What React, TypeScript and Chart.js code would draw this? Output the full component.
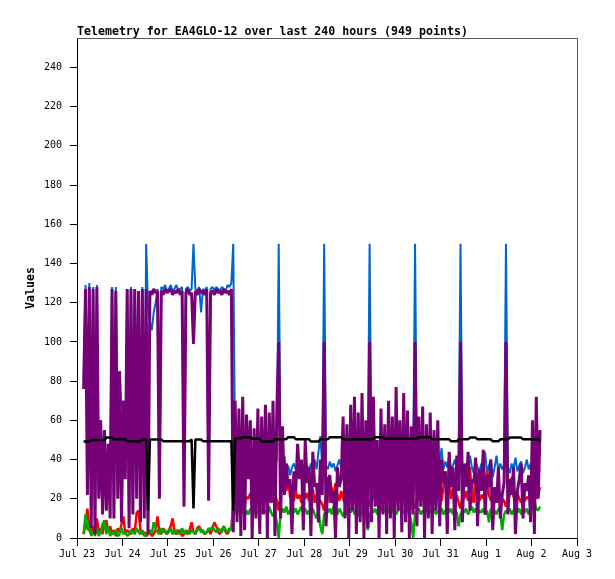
import React, { useEffect, useRef } from "react";
import { Chart, registerables } from "chart.js";

Chart.register(...registerables);

const TITLE = "Telemetry for EA4GLO-12 over last 240 hours (949 points)";
const Y_TITLE = "Values";
const DAY_LABELS = ["Jul 23", "Jul 24", "Jul 25", "Jul 26", "Jul 27", "Jul 28", "Jul 29", "Jul 30", "Jul 31", "Aug 1", "Aug 2", "Aug 3"];
const HOURS_SPAN = 264; // Jul 23 00:00 .. Aug 3 00:00
const START_HOUR = 3.5; // first sample, hours after Jul 23 00:00
const STEP_HOURS = 1; // one sample per hour

const PURPLE = [
  76, 127, 22, 128, 5, 127, 2, 128, 20, 60,
  12, 55, 14, 48, 10, 127, 10, 126, 20, 85,
  8, 70, 30, 127, 5, 127, 12, 127, 20, 126,
  8, 127, 10, 127, 2, 126, 124, 127, 125, 126,
  20, 126, 124, 127, 125, 126, 127, 124, 126, 125,
  127, 124, 126, 16, 125, 127, 124, 125, 99, 126,
  124, 127, 125, 126, 124, 127, 19, 125, 126, 124,
  127, 125, 126, 124, 127, 125, 126, 124, 127, 3,
  70, 8, 66, 1, 72, 4, 63, 30, 60, 0,
  56, 10, 66, 2, 62, 12, 68, 0, 64, 18,
  70, 1, 65, 100, 10, 57, 22, 38, 26, 30,
  2, 34, 24, 48, 30, 40, 4, 50, 28, 36,
  1, 44, 26, 28, 8, 40, 22, 100, 6, 30,
  32, 18, 24, 0, 36, 26, 30, 62, 10, 58,
  0, 68, 14, 72, 2, 64, 8, 74, 0, 60,
  5, 100, 8, 72, 16, 50, 0, 66, 12, 58,
  2, 70, 10, 62, 0, 77, 14, 60, 3, 74,
  8, 65, 0, 57, 12, 100, 6, 62, 16, 67,
  0, 58, 10, 64, 2, 55, 14, 60, 6, 40,
  28, 34, 2, 44, 26, 36, 4, 42, 24, 100,
  8, 38, 26, 44, 14, 30, 28, 41, 6, 35,
  24, 45, 12, 32, 26, 40, 4, 26, 18, 36,
  10, 22, 28, 100, 12, 30, 22, 36, 2, 24,
  30, 38, 10, 28, 24, 32, 8, 60, 2, 72,
  20, 55,
];

const BLUE = [
  80, 129, 37, 130, 6, 128, 3, 129, 22, 60,
  34, 55, 14, 48, 34, 128, 12, 128, 46, 85,
  66, 70, 44, 126, 6, 128, 13, 127, 80, 126,
  9, 128, 11, 150, 118, 110, 106, 115, 120, 127,
  21, 128, 127, 129, 126, 127, 129, 126, 127, 129,
  126, 127, 128, 17, 127, 128, 126, 127, 150, 127,
  126, 128, 115, 127, 126, 128, 20, 127, 128, 126,
  128, 127, 126, 128, 127, 126, 129, 128, 130, 150,
  36, 38, 34, 37, 35, 39, 36, 48, 30, 36,
  38, 35, 37, 34, 36, 39, 35, 37, 36, 38,
  34, 37, 40, 150, 38, 35, 42, 34, 37, 32,
  36, 38, 35, 37, 34, 38, 36, 35, 37, 34,
  38, 36, 40, 35, 44, 52, 36, 150, 37, 35,
  39, 36, 38, 34, 37, 40, 36, 38, 35, 37,
  34, 38, 36, 39, 35, 37, 34, 38, 36, 40,
  37, 150, 35, 38, 34, 37, 36, 39, 35, 38,
  36, 34, 38, 37, 35, 39, 36, 34, 38, 40,
  35, 37, 36, 38, 34, 150, 33, 37, 35, 38,
  36, 34, 39, 35, 37, 40, 36, 44, 38, 46,
  35, 39, 36, 42, 34, 37, 40, 35, 38, 150,
  36, 31, 38, 35, 42, 36, 33, 39, 36, 34,
  38, 35, 44, 33, 37, 40, 31, 36, 42, 34,
  38, 35, 37, 150, 36, 33, 38, 35, 41, 34,
  37, 39, 33, 36, 40, 35, 38, 34, 37, 44,
  36, 34,
];

const RED = [
  2, 8, 15, 4, 2, 6, 1, 10, 3, 5,
  2, 8, 9, 3, 6, 2, 4, 1, 5, 3,
  7, 11, 2, 4, 3, 2, 5, 3, 13, 14,
  4, 2, 3, 1, 2, 3, 1, 2, 4, 11,
  3, 2, 5, 3, 2, 4, 6, 10, 3, 2,
  4, 3, 1, 2, 3, 2, 4, 8, 3, 2,
  5, 6, 4, 3, 2, 3, 4, 2, 5, 8,
  6, 3, 2, 4, 6, 3, 2, 4, 5, 16,
  20, 18, 22, 19, 24, 17, 21, 20, 23, 18,
  22, 19, 25, 20, 17, 22, 19, 21, 24, 18,
  20, 23, 19, 14, 22, 28, 38, 24, 30, 21,
  27, 19, 24, 20, 22, 18, 24, 20, 23, 19,
  21, 25, 18, 22, 20, 19, 17, 14, 22, 30,
  18, 26, 20, 28, 22, 19, 24, 20, 18, 22,
  19, 21, 23, 18, 20, 22, 19, 21, 24, 20,
  18, 16, 22, 20, 24, 19, 21, 23, 18, 20,
  22, 19, 21, 24, 20, 18, 22, 25, 19, 30,
  23, 20, 18, 22, 17, 15, 20, 22, 18, 24,
  20, 19, 22, 20, 18, 21, 23, 20, 24, 19,
  26, 34, 22, 30, 20, 25, 19, 22, 18, 15,
  21, 20, 24, 19, 36, 20, 18, 38, 21, 19,
  22, 20, 26, 34, 22, 19, 21, 20, 23, 18,
  21, 20, 19, 16, 20, 22, 31, 21, 19, 23,
  20, 18, 22, 19, 21, 20, 24, 18, 26, 20,
  22, 26,
];

const GREEN = [
  2, 12, 4, 8, 1, 3, 2, 5, 1, 3,
  7, 9, 2, 6, 1, 3, 2, 4, 1, 2,
  5, 2, 3, 1, 2, 4, 3, 2, 5, 3,
  2, 4, 1, 2, 3, 4, 2, 8, 5, 3,
  2, 5, 3, 4, 2, 3, 5, 2, 3, 4,
  2, 3, 5, 2, 4, 3, 2, 4, 3, 2,
  4, 5, 3, 4, 2, 3, 5, 4, 6, 4,
  3, 5, 4, 3, 6, 4, 3, 5, 4, 18,
  14, 12, 16, 13, 15, 11, 14, 12, 15, 13,
  16, 12, 14, 11, 15, 13, 14, 12, 16, 13,
  11, 14, 8, 0, 12, 15, 13, 16, 12, 14,
  18, 13, 15, 12, 14, 16, 13, 15, 12, 14,
  13, 15, 12, 10, 14, 6, 2, 12, 14, 13,
  15, 12, 16, 14, 12, 15, 13, 11, 14, 12,
  15, 13, 16, 12, 14, 11, 15, 13, 10, 14,
  4, 12, 14, 13, 15, 12, 14, 16, 13, 15,
  12, 14, 17, 13, 15, 12, 14, 16, 12, 14,
  13, 15, 12, 8, 0, 12, 14, 15, 12, 14,
  13, 16, 12, 14, 13, 15, 12, 14, 13, 15,
  12, 14, 16, 13, 15, 12, 14, 13, 6, 12,
  14, 13, 15, 12, 14, 16, 13, 15, 12, 14,
  13, 15, 12, 14, 8, 15, 13, 14, 12, 15,
  13, 4, 12, 14, 13, 15, 12, 14, 16, 13,
  15, 12, 14, 13, 15, 12, 14, 17, 19, 15,
  14, 16,
];

const BLACK = [
  49.2, 49.2, 49.2, 49.2, 50, 50, 50, 50, 50, 50,
  50, 50, 51.2, 51.2, 51.2, 51.2, 50.4, 50.4, 50.4, 50.4,
  50.4, 50.4, 50.4, 49.4, 49.4, 49.4, 49.4, 49.4, 49.4, 49.4,
  49.4, 50.2, 50.2, 50.2, 14, 50.2, 50.2, 50.2, 50.2, 50.2,
  50.2, 50.2, 49.4, 49.4, 49.4, 49.4, 49.4, 49.4, 49.4, 49.4,
  49.4, 49.4, 49.4, 49.4, 49.4, 49.4, 49.4, 50.2, 15, 50.2,
  50.2, 50.2, 50.2, 49.4, 49.4, 49.4, 49.4, 49.4, 49.4, 49.4,
  49.4, 49.4, 49.4, 49.4, 49.4, 49.4, 49.4, 49.4, 49.4, 14,
  50.9, 50.9, 50.9, 50.9, 51.4, 51.4, 51.4, 51.4, 51.4, 50.6,
  50.6, 50.6, 50.6, 50.6, 49.2, 49.2, 49.2, 49.2, 49.2, 49.2,
  49.2, 50.4, 50.4, 50.4, 50.4, 50.4, 50.4, 50.4, 51.4, 51.4,
  51.4, 51.4, 50.4, 50.4, 50.4, 50.4, 50.4, 50.4, 50.4, 50.4,
  49.2, 49.2, 49.2, 49.2, 49.2, 50.4, 50.4, 50.4, 50.4, 50.4,
  51.4, 51.4, 51.4, 51.4, 51.4, 51.4, 51.4, 50.4, 50.4, 50.4,
  50.4, 50.4, 50.4, 50.4, 50.4, 50.4, 50.4, 50.4, 50.4, 50.4,
  50.4, 50.4, 50.4, 50.4, 51.4, 51.4, 51.4, 51.4, 51.4, 50.6,
  50.6, 50.6, 50.6, 50.6, 50.6, 50.6, 50.6, 50.6, 50.6, 50.6,
  50.6, 50.6, 50.6, 50.6, 50.6, 50.6, 50.6, 51.4, 51.4, 51.4,
  51.4, 51.4, 51.4, 51.4, 50.3, 50.3, 50.3, 50.3, 50.3, 50.3,
  50.3, 50.3, 50.3, 50.3, 49.3, 49.3, 49.3, 49.3, 50.3, 50.3,
  50.3, 50.3, 50.3, 50.3, 51.2, 51.2, 51.2, 51.2, 50.3, 50.3,
  50.3, 50.3, 50.3, 50.3, 50.3, 50.3, 49.3, 49.3, 49.3, 49.3,
  50.3, 50.3, 50.3, 50.3, 50.3, 51.2, 51.2, 51.2, 51.2, 51.2,
  51.2, 51.2, 50.3, 50.3, 50.3, 50.3, 50.3, 50.3, 50.3, 50.3,
  50.3, 49.3,
];

const Y_MAX = 255;
const Y_STEP = 20;
const TICK_FONT = { family: "'DejaVu Sans Mono', monospace", size: 10 };

function toPoints(values: number[]) {
  return values.map((v, i) => ({ x: START_HOUR + i * STEP_HOURS, y: v }));
}

const decorPlugin = {
  id: "decor",
  afterDraw(chart: any) {
    const { ctx, chartArea } = chart;
    const { left, top, right, bottom } = chartArea;
    ctx.save();
    ctx.strokeStyle = "#5a5a5a";
    ctx.lineWidth = 1;
    ctx.beginPath();
    ctx.moveTo(left, top + 0.5);
    ctx.lineTo(right + 0.5, top + 0.5);
    ctx.lineTo(right + 0.5, bottom);
    ctx.stroke();
    ctx.fillStyle = "#000";
    ctx.font = "bold 11.6px 'DejaVu Sans Mono', monospace";
    ctx.textAlign = "left";
    ctx.textBaseline = "alphabetic";
    ctx.fillText(TITLE, left, top - 3);
    ctx.translate(31, (top + bottom) / 2);
    ctx.rotate(-Math.PI / 2);
    ctx.textAlign = "center";
    ctx.textBaseline = "middle";
    ctx.fillText(Y_TITLE, 0, 0);
    ctx.restore();
  },
};

export default function App() {
  const canvasRef = useRef<HTMLCanvasElement | null>(null);

  useEffect(() => {
    const canvas = canvasRef.current;
    if (!canvas) return;
    const line = (data: number[], color: string, width: number, order: number) => ({
      data: toPoints(data),
      borderColor: color,
      backgroundColor: color,
      borderWidth: width,
      pointRadius: 0,
      tension: 0,
      fill: false,
      borderJoinStyle: "bevel" as const,
      order,
    });
    const chart = new Chart(canvas, {
      type: "line",
      data: {
        datasets: [
          line(BLUE, "#0066cc", 2, 5),
          line(RED, "#ff0000", 2.5, 4),
          line(GREEN, "#00aa00", 2.5, 3),
          line(PURPLE, "#760076", 3, 2),
          line(BLACK, "#000000", 2.5, 1),
        ],
      },
      options: {
        animation: false,
        responsive: false,
        devicePixelRatio: 1,
        layout: { padding: { top: 38, right: 38, bottom: 0, left: 0 } },
        plugins: {
          legend: { display: false },
          tooltip: { enabled: false },
          title: { display: false },
        },
        scales: {
          x: {
            type: "linear",
            min: 0,
            max: HOURS_SPAN,
            ticks: {
              stepSize: 24,
              autoSkip: false,
              maxRotation: 0,
              color: "#000",
              font: TICK_FONT,
              padding: 2,
              callback: (v: any) => DAY_LABELS[Math.round(Number(v) / 24)] ?? "",
            },
            grid: { drawOnChartArea: false, tickLength: 8, color: "#000", tickColor: "#000" },
            border: { color: "#000", width: 1 },
            afterFit: (s: any) => {
              s.height = 41;
            },
          },
          y: {
            type: "linear",
            min: 0,
            max: Y_MAX,
            ticks: { stepSize: Y_STEP, color: "#000", font: TICK_FONT, padding: 8 },
            afterBuildTicks: (s: any) => {
              s.ticks = s.ticks.filter((t: any) => t.value % Y_STEP === 0);
            },
            grid: { drawOnChartArea: false, tickLength: 7, color: "#000", tickColor: "#000" },
            border: { color: "#000", width: 1 },
            afterFit: (s: any) => {
              s.width = 77;
            },
          },
        },
      },
      plugins: [decorPlugin],
    });
    return () => chart.destroy();
  }, []);

  return (
    <div style={{ position: "fixed", left: 0, top: 0, width: 615, height: 579, background: "#fff" }}>
      <canvas ref={canvasRef} width={615} height={579} style={{ display: "block" }} />
    </div>
  );
}
